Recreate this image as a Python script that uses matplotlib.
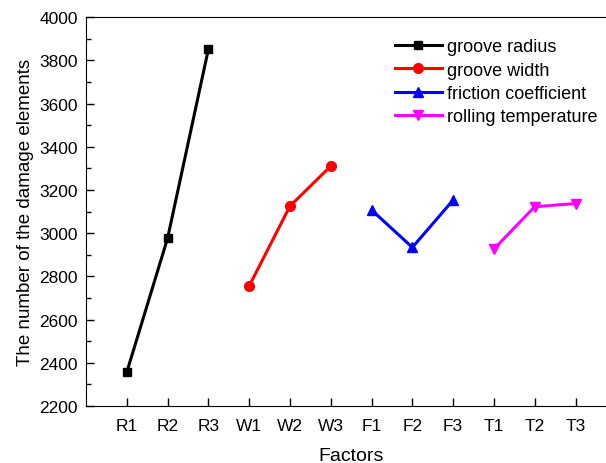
import matplotlib.pyplot as plt
from matplotlib.ticker import MultipleLocator

plt.rcParams['font.family'] = ['Liberation Sans', 'DejaVu Sans']

# factor levels on the x axis
levels = ['R1', 'R2', 'R3', 'W1', 'W2', 'W3', 'F1', 'F2', 'F3', 'T1', 'T2', 'T3']

radius_vals = [2357, 2977, 3852]
width_vals = [2755, 3125, 3310]
friction_vals = [3107, 2934, 3153]
temp_vals = [2926, 3122, 3137]

series = [
    ('groove radius', radius_vals, 'black', 's', 6),
    ('groove width', width_vals, 'red', 'o', 7),
    ('friction coefficient', friction_vals, 'blue', '^', 7.5),
    ('rolling temperature', temp_vals, 'magenta', 'v', 7.5),
]

fig = plt.figure(figsize=(6.06, 4.64), dpi=100)
ax = fig.add_axes([0.142, 0.123, 0.875, 0.838])

for i, (name, vals, color, marker, ms) in enumerate(series):
    xs = [3 * i + 1, 3 * i + 2, 3 * i + 3]
    ax.plot(xs, vals, color=color, marker=marker, markersize=ms, linewidth=2.2, label=name)

ax.set_xlim(0, 13)
ax.set_ylim(2200, 4000)
ax.set_xticks(range(1, 13))
ax.set_xticklabels(levels)
ax.yaxis.set_major_locator(MultipleLocator(200))
ax.yaxis.set_minor_locator(MultipleLocator(100))
ax.spines['right'].set_visible(False)
ax.tick_params(direction='in', labelsize=12.5, length=6, width=1)
ax.tick_params(which='minor', direction='in', length=3.5, width=1)
ax.tick_params(axis='x', pad=9)
ax.tick_params(axis='y', pad=6)
ax.set_xlabel('Factors', fontsize=14, labelpad=10)
ax.set_ylabel('The number of the damage elements', fontsize=13.5, labelpad=4)

fig.legend(loc='upper left', bbox_to_anchor=(0.625, 0.95), frameon=False,
           fontsize=13, handlelength=2.6, labelspacing=0.35, handletextpad=0.3)

fig.savefig('out.png', dpi=100)
